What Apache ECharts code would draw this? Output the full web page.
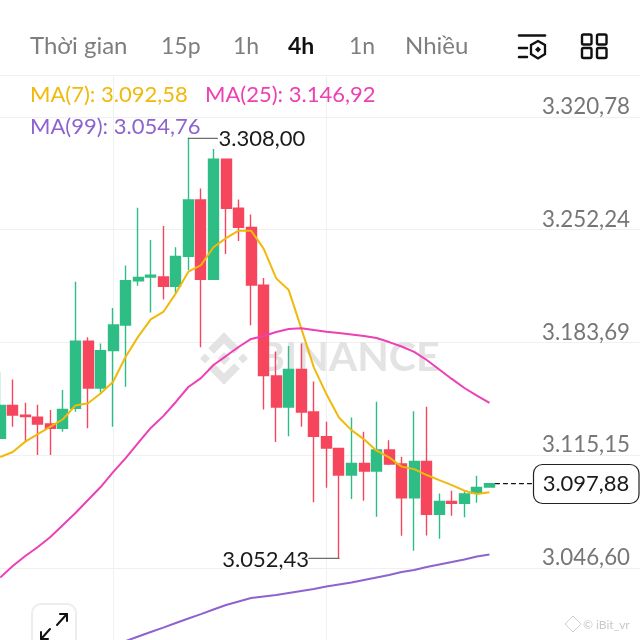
<!DOCTYPE html>
<html><head><meta charset="utf-8">
<style>html,body{margin:0;padding:0;background:#fff}#c{width:640px;height:640px}</style>
<script src="https://cdn.jsdelivr.net/npm/echarts@6/dist/echarts.min.js"></script>
</head><body><div id="c"></div>
<script>
const opens=[3125.4,3145.4,3139.4,3138.2,3134.1,3131.5,3143.6,3184.5,3156,3178.7,3194.3,3221.2,3223.4,3223.4,3217.8,3236,3270.2,3222,3295,3265.2,3253.6,3218.4,3163.3,3144.4,3167.3,3141.4,3126.4,3119.3,3103.1,3110.2,3105.5,3118.3,3109.8,3089.3,3111.4,3079.2,3087.1,3085.9,3092,3095.8];
const closes=[3145.4,3139.6,3138.6,3134.1,3131.5,3143,3184.5,3156,3178.7,3194.3,3221.2,3223.2,3224.6,3217.8,3236,3270.2,3222,3295,3265.2,3253.6,3218.6,3163.5,3144.4,3167.3,3141.4,3126.6,3119.5,3103.1,3110.2,3105.5,3118.3,3109.8,3089.3,3111.4,3079.2,3087.1,3085.9,3091.6,3095.6,3097.88];
const lows=[3124.8,3132.5,3123.4,3115.3,3115.3,3129.4,3141.6,3131.5,3152.8,3132.5,3156.8,3218.2,3201.8,3209.7,3213.5,3227.7,3180.7,3222,3237.4,3245.3,3194.1,3143,3123.2,3126.6,3132.5,3086.5,3095.4,3052.43,3088.5,3087.5,3077.8,3109.2,3066.2,3057.1,3066.4,3064.4,3078.4,3077.4,3086.3,3095.8];
const highs=[3165.5,3161.2,3147.1,3145.8,3142.6,3154.8,3220.6,3186.8,3183.1,3204.6,3230.5,3265.6,3245.9,3254.4,3241.5,3308,3277.3,3301.2,3295,3270.6,3261.5,3222.8,3178.2,3181.5,3183.1,3160,3135.5,3119.3,3138.1,3129.4,3147.7,3124.2,3114.2,3141.8,3144.6,3091.9,3093.6,3093.2,3102.7,3097.88];
const ma7=[3114,3117.1,3123.4,3128,3132.5,3137,3145.4,3146.7,3152.7,3159.8,3175,3187.2,3197.7,3202.2,3213.5,3226.7,3230.7,3241.5,3247.1,3251.6,3251.6,3240.7,3222.6,3215.5,3192.2,3168.5,3152.3,3138.1,3130.4,3124.8,3117.9,3113.8,3108.2,3106.7,3103.1,3100,3097,3093.6,3091.6,3092.58];
const ma25=[3040.8,3047.8,3053.9,3059.4,3065.4,3072.7,3080,3087.9,3095.8,3104.9,3113.4,3122.6,3131.7,3138.9,3147.5,3156.6,3162,3170,3175.4,3180.9,3185.8,3187.6,3190,3191.8,3192.3,3191.2,3190.2,3189.4,3188.5,3187.6,3186.4,3183.9,3181.2,3177.9,3173,3167.2,3161.5,3156,3151.4,3146.92];
const ma99=[null,null,null,null,null,null,null,null,null,null,3002.2,3005,3007.7,3010.4,3013.2,3015.9,3018.6,3021.4,3024.1,3026.2,3028.4,3029.3,3030.2,3031.4,3032.6,3033.8,3035.4,3036.6,3037.8,3039.3,3040.8,3042.3,3044.2,3045.4,3047.2,3048.7,3050.2,3051.8,3053.6,3054.76];
const priceTicks=[3046.60,3115.15,3183.69,3252.24,3320.78];
const periods=['Thời gian','15p','1h','4h','1n','Nhiều'];
const maLabels=['MA(7): 3.092,58','MA(25): 3.146,92','MA(99): 3.054,76'];
const lastPrice=3097.88, peakPrice=3308.00, troughPrice=3052.43;
const peakIndex=15, troughIndex=27, lastIndex=39;
const verticalGridIndexes=[9,26];
const categories=Array.from({length:52},(_,i)=>String(i));

const fmt=v=>{const [a,b]=v.toFixed(2).split('.');return a.replace(/\B(?=(\d{3})+$)/g,'.')+','+b;};
const FONT='Lato, "Noto Sans", sans-serif';
const green='#2EBD85', red='#F6465D', gridC='#EFF0F2', gray='#767676';
const chart=echarts.init(document.getElementById('c'),null,{renderer:'canvas'});
const candleData=opens.map((o,i)=>[o,closes[i],lows[i],highs[i]]);
const lineS=(name,data,color)=>({name,type:'line',data,showSymbol:false,symbol:'none',smooth:false,connectNulls:false,
  lineStyle:{color,width:2},itemStyle:{color},z:5,silent:true});
chart.setOption({
  animation:false,backgroundColor:'#fff',
  grid:{left:0.2,top:75,width:652.6,height:565,containLabel:false},
  xAxis:{type:'category',data:categories,boundaryGap:false,
    axisLine:{show:false},axisTick:{show:false},axisLabel:{show:false},
    splitLine:{show:true,interval:i=>verticalGridIndexes.includes(i),lineStyle:{color:gridC,width:1}}},
  yAxis:{type:'value',position:'left',min:3002.85,max:3346.2,scale:true,
    axisLine:{show:false},axisTick:{show:false,customValues:priceTicks},
    axisLabel:{show:false,customValues:priceTicks},
    splitLine:{show:true,lineStyle:{color:gridC,width:1}}},
  series:[
    {name:'Candles',type:'candlestick',data:candleData,barWidth:10.5,z:3,
     itemStyle:{color:green,color0:red,borderColor:green,borderColor0:red,borderWidth:1.4}},
    lineS('MA(7)',ma7,'#F0B90B'),lineS('MA(25)',ma25,'#EC40B4'),lineS('MA(99)',ma99,'#8E63CE')
  ]
});
const P=(i,v)=>chart.convertToPixel({xAxisIndex:0,yAxisIndex:0},[i,v]);
const T=(text,x,y,fill,size,extra={})=>({type:'text',z:50,style:Object.assign({text,x,y,fill,font:`${extra.weight||'400'} ${size}px ${FONT}`,textVerticalAlign:'middle',textAlign:'left'},extra.style||{})});
const line=(x1,y1,x2,y2,stroke,w,dash)=>({type:'line',z:50,shape:{x1,y1,x2,y2},style:{stroke,lineWidth:w,lineDash:dash||null,lineCap:'round'}});
const rr=(x,y,w,h,r,stroke,lw,fill)=>({type:'rect',z:50,shape:{x,y,width:w,height:h,r},style:{stroke,lineWidth:lw,fill:fill||'transparent'}});
const els=[];
// header
const px=[30,161,233,288,349,405];
const pSize=[24,23,23,23,23,24];
periods.forEach((p,i)=>els.push(T(p,px[i],46.5,i===3?'#111':'#7E7E7E',pSize[i],{weight:i===3?'700':'400'})));
els.push(line(0,75.5,640,75.5,gridC,1));
// icon 1
els.push(line(519,35.5,545,35.5,'#111',2.5),line(519,48,527,48,'#111',2.5),line(519,57,527,57,'#111',2.5));
els.push({type:'polygon',z:50,shape:{points:[[538,41],[545,45],[545,54],[538,58.5],[531,54],[531,45]]},style:{stroke:'#111',lineWidth:2.3,fill:'transparent'}});
els.push({type:'polygon',z:50,shape:{points:[[538,46.5],[541,49.5],[538,52.5],[535,49.5]]},style:{fill:'#111'}});
// icon 2
[[582,34.5],[597,34.5],[582,48],[597,48]].forEach(([x,y])=>els.push(rr(x,y,9.5,10,1.5,'#111',2.4)));
// MA legends
els.push(T(maLabels[0],30,95,'#F0B90B',22),T(maLabels[1],205,95,'#EC40B4',22),T(maLabels[2],30,127,'#8E63CE',22));
// y tick labels
priceTicks.forEach(v=>{const p=P(0,v);els.push(T(fmt(v),630,p[1]-10,gray,22.3,{style:{textAlign:'right'}}));});
// peak
const a=P(peakIndex,peakPrice);
els.push(line(a[0],a[1]+0.5,a[0]+29,a[1]+0.5,'#6E6E6E',1.4),T(fmt(peakPrice),218.5,a[1]+1,'#1A1A1A',22));
// trough
const b=P(troughIndex,troughPrice);
els.push(line(b[0],b[1],b[0]-30,b[1],'#6E6E6E',1.4),T(fmt(troughPrice),309,b[1]+1,'#1A1A1A',22,{style:{textAlign:'right'}}));
// last price
const c=P(lastIndex,lastPrice);
els.push(line(c[0]+6,c[1],533,c[1],'#111',1.2,[4,4]));
els.push(rr(533.5,464.5,105.5,39,9,'#222',1.2,'#fff'));
els.push(T(fmt(lastPrice),586,c[1]+0.5,'#1A1A1A',22,{style:{textAlign:'center'}}));
// watermark
const wm='#E3E3E3';
els.push({type:'polyline',z:1,shape:{points:[[211,351],[224,338],[237,351]]},style:{stroke:wm,lineWidth:8,fill:'transparent'}});
els.push({type:'polyline',z:1,shape:{points:[[211,366],[224,379],[237,366]]},style:{stroke:wm,lineWidth:8,fill:'transparent'}});
[[205,358.5,5],[243,358.5,5],[224,358.5,6.5]].forEach(([x,y,r])=>els.push({type:'polygon',z:1,shape:{points:[[x,y-r],[x+r,y],[x,y+r],[x-r,y]]},style:{fill:wm}}));
els.push({type:'text',z:1,style:{text:'BINANCE',x:258,y:358,fill:wm,font:`700 41px ${FONT}`,textVerticalAlign:'middle',textAlign:'left'}});
// credit
els.push(T('© iBit_vr',583,625,'#C8C8C8',12));
els.push({type:'polygon',z:50,shape:{points:[[573,616],[581,624],[573,632],[565,624]]},style:{stroke:'#D0D0D0',lineWidth:1,fill:'transparent'}});
// expand button
els.push(rr(32,604,44,50,9,'#EDEDED',2,'#fff'));
els.push(line(57,625,66,615,'#111',2),line(60,614,67,614,'#111',2),line(67,614,67,621,'#111',2));
els.push(line(50,629,42,638,'#111',2),line(41,632,41,639,'#111',2),line(41,639,48,639,'#111',2));
chart.setOption({graphic:{elements:els}});
</script></body></html>
